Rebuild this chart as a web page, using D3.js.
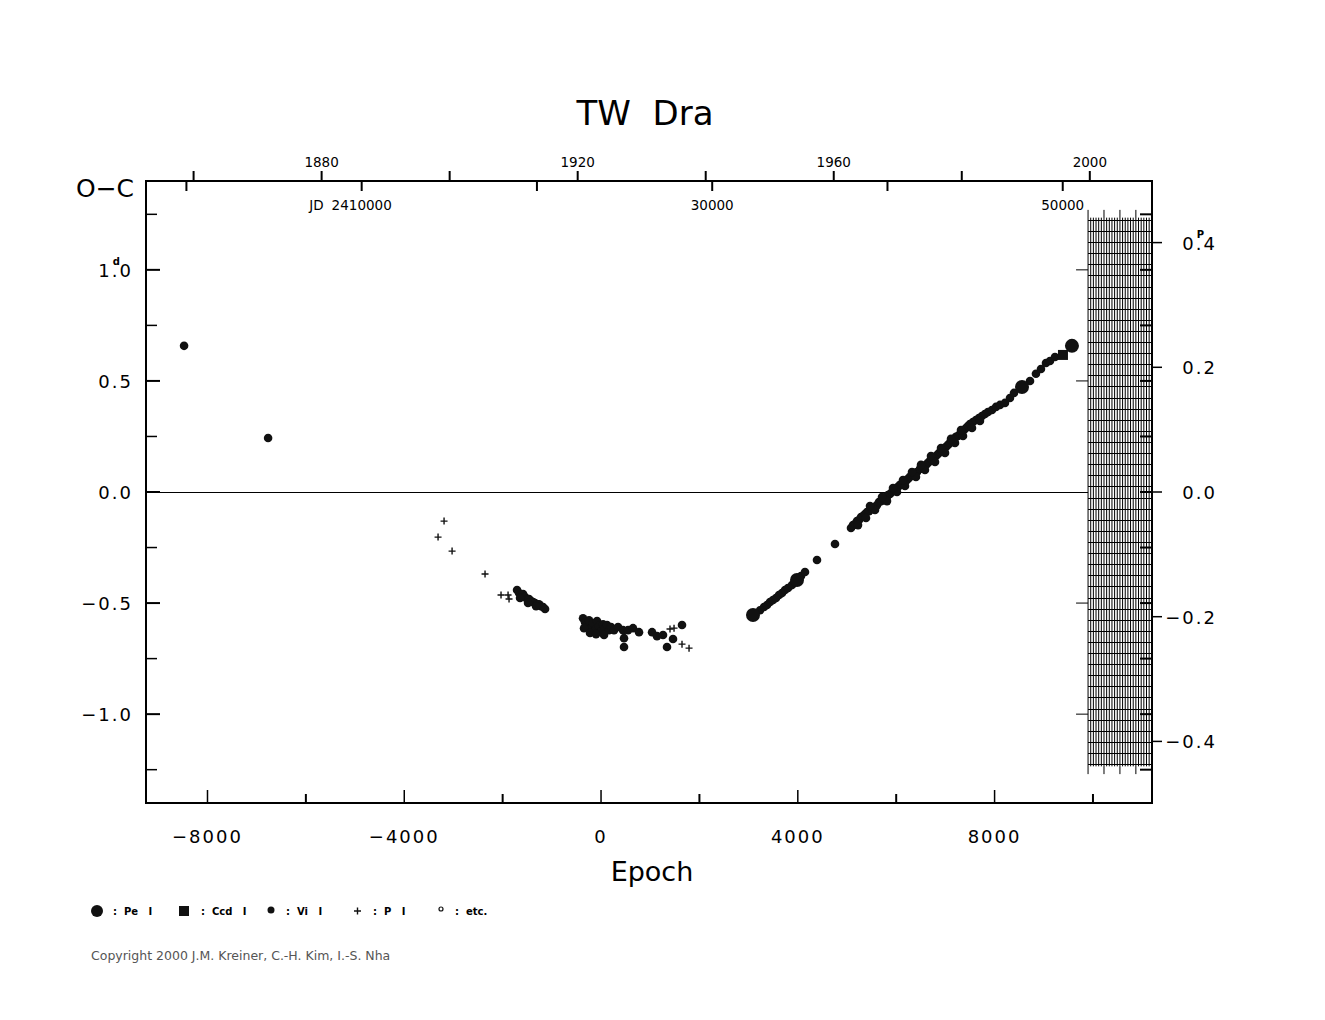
<!DOCTYPE html>
<html>
<head>
<meta charset="utf-8">
<script src="https://cdn.jsdelivr.net/npm/d3@7/dist/d3.min.js"></script>
<style>
  body { margin: 0; background: #fff; }
  text { font-family: "DejaVu Sans", sans-serif; fill: #000; white-space: pre; }
</style>
</head>
<body>
<div id="chart"></div>
<script>
// O-C data for TW Dra, [epoch, O-C in days]
var peData = [[3089, -0.554], [3984, -0.396], [8557, 0.473], [9573, 0.658]];
var ccdData = [[9390, 0.617]];
var pData = [[-3191, -0.131], [-3313, -0.203], [-3028, -0.266], [-2358, -0.369], [-2033, -0.464],
  [-1890, -0.464], [-1870, -0.482], [1402, -0.617], [1484, -0.613], [1646, -0.685], [1789, -0.703]];
var viData = [
  [-8476, 0.658], [-6768, 0.243],
  // 1900s cluster
  [-1707, -0.441], [-1667, -0.455], [-1626, -0.464], [-1585, -0.459], [-1545, -0.473], [-1504, -0.482],
  [-1463, -0.482], [-1423, -0.491], [-1382, -0.495], [-1341, -0.500], [-1301, -0.505], [-1260, -0.505],
  [-1220, -0.514], [-1179, -0.518], [-1138, -0.527], [-1646, -0.477], [-1484, -0.500], [-1321, -0.514],
  // 1920s cluster
  [-366, -0.568], [-325, -0.586], [-285, -0.599], [-244, -0.577], [-203, -0.613], [-163, -0.590],
  [-122, -0.622], [-81, -0.581], [-41, -0.604], [0, -0.626], [41, -0.595], [81, -0.613], [122, -0.599],
  [163, -0.622], [203, -0.608], [-346, -0.613], [-224, -0.635], [-102, -0.640], [61, -0.644],
  [264, -0.622], [346, -0.608], [447, -0.622], [549, -0.622], [467, -0.658], [467, -0.698], [650, -0.613],
  [772, -0.631], [1037, -0.631], [1138, -0.649], [1260, -0.644], [1341, -0.698], [1463, -0.662], [1646, -0.599],
  // modern branch
  [3232, -0.532], [3313, -0.518], [3374, -0.509], [3435, -0.495], [3496, -0.486], [3557, -0.477],
  [3618, -0.464], [3679, -0.455], [3740, -0.441], [3801, -0.432], [3882, -0.419], [3943, -0.405],
  [4065, -0.378], [4146, -0.360], [4390, -0.306], [4756, -0.234],
  [5081, -0.162], [5122, -0.149], [5163, -0.144], [5203, -0.131], [5244, -0.126], [5285, -0.113],
  [5325, -0.108], [5366, -0.099], [5407, -0.090], [5447, -0.086], [5508, -0.077], [5549, -0.068],
  [5610, -0.059], [5650, -0.045], [5691, -0.041], [5752, -0.032], [5793, -0.023], [5833, -0.014],
  [5874, -0.009], [5915, 0.000], [5955, 0.009], [5996, 0.014], [6037, 0.023], [6077, 0.032],
  [6118, 0.036], [6159, 0.045], [6199, 0.050], [6240, 0.059], [6280, 0.068], [6341, 0.077],
  [6382, 0.086], [6423, 0.090], [6484, 0.104], [6524, 0.108], [6565, 0.117], [6606, 0.122],
  [6646, 0.131], [6687, 0.140], [6728, 0.144], [6768, 0.153], [6809, 0.162], [6850, 0.171],
  [6890, 0.180], [6931, 0.185], [6972, 0.194], [7012, 0.203], [7053, 0.212], [7093, 0.221],
  [7134, 0.230], [7175, 0.239], [7215, 0.248], [7256, 0.252], [7297, 0.261], [7337, 0.270],
  [7378, 0.279], [7419, 0.288], [7459, 0.297], [7500, 0.306], [7561, 0.315], [7622, 0.324],
  [7683, 0.333], [7744, 0.342], [7805, 0.351], [7866, 0.360], [7947, 0.369], [8028, 0.383], [8110, 0.392],
  [5224, -0.149], [5386, -0.117], [5569, -0.081], [5813, -0.041], [6016, 0.000], [6179, 0.027],
  [6402, 0.068], [6585, 0.099], [6789, 0.135], [6992, 0.176], [7195, 0.221], [7358, 0.252],
  [7541, 0.288], [7703, 0.320], [5467, -0.063], [5711, -0.023], [5935, 0.018], [6138, 0.054],
  [6321, 0.090], [6504, 0.122], [6707, 0.162], [6911, 0.198], [7114, 0.239], [7317, 0.279],
  [8211, 0.401], [8313, 0.423], [8394, 0.446], [8598, 0.477], [8720, 0.500], [8841, 0.532],
  [8943, 0.554], [9045, 0.581], [9126, 0.590], [9228, 0.608]
];

// axis ticks
var epochTicks = [-8000, -4000, 0, 4000, 8000];
var epochMinor = [-6000, -2000, 2000, 6000, 10000];
var ocTicks = [-1.0, -0.5, 0.0, 0.5, 1.0];
var ocMinor = [-1.25, -0.75, -0.25, 0.25, 0.75, 1.25];
var phaseTicks = [-0.4, -0.2, 0.0, 0.2, 0.4];
var yearTicks = [1860, 1880, 1900, 1920, 1940, 1960, 1980, 2000];
var yearLabels = [1880, 1920, 1960, 2000];
var jdTicks = [2400000, 2410000, 2420000, 2430000, 2440000, 2450000];
var jdLabels = [2410000, 2430000, 2450000];

// ephemeris
var T0 = 2423657, P = 2.8068;

var svgWidth = 1325, svgHeight = 1020;
var plotLeft = 146, plotRight = 1152, plotTop = 181, plotBottom = 803;

var svg = d3.select("#chart").append("svg")
  .attr("width", svgWidth).attr("height", svgHeight);

var x = d3.scaleLinear().domain([-9250, 11200]).range([plotLeft, plotRight]);
var y = d3.scaleLinear().domain([-1.4, 1.4]).range([plotBottom, plotTop]);
var yP = d3.scaleLinear().domain([-1.4 / P, 1.4 / P]).range([plotBottom, plotTop]);

function epochToJD(e) { return T0 + P * e; }
function jdToYear(jd) { return 2000 + (jd - 2451544.5) / 365.25; }
var xJD = d3.scaleLinear().domain(x.domain().map(epochToJD)).range([plotLeft, plotRight]);
var xYear = d3.scaleLinear().domain(x.domain().map(function(e) { return jdToYear(epochToJD(e)); })).range([plotLeft, plotRight]);

// title
svg.append("text").attr("x", 645).attr("y", 125).attr("text-anchor", "middle")
  .style("font-size", "34px").text("TW  Dra");
svg.append("text").attr("x", 105).attr("y", 197).attr("text-anchor", "middle")
  .style("font-size", "25px").text("O\u2212C");
svg.append("text").attr("x", 652).attr("y", 881).attr("text-anchor", "middle")
  .style("font-size", "27px").text("Epoch");

// hatch region on the right
var hatch = svg.append("g").attr("stroke", "#000").attr("stroke-width", 1);
var hatchX = d3.range(24).map(function(i) { return 9900 + i * 54; });
hatch.selectAll("line.v").data(hatchX).enter().append("line")
  .attr("x1", function(d) { return x(d); })
  .attr("x2", function(d) { return x(d); })
  .attr("y1", function(d, i) { return i % 6 === 0 ? y(1.27) : y(1.235); })
  .attr("y2", function(d, i) { return i % 6 === 0 ? y(-1.27) : y(-1.235); });
var hatchY = d3.range(50).map(function(i) { return -1.225 + i * 0.05; });
hatch.selectAll("line.h").data(hatchY).enter().append("line")
  .attr("x1", x(9900)).attr("x2", plotRight)
  .attr("y1", function(d) { return Math.round(y(d)) + 0.5; })
  .attr("y2", function(d) { return Math.round(y(d)) + 0.5; });

// zero line
svg.append("line").attr("x1", plotLeft).attr("x2", x(9900))
  .attr("y1", y(0) + 0.5).attr("y2", y(0) + 0.5).attr("stroke", "#000").attr("stroke-width", 1);

// ticks
var ticks = svg.append("g").attr("stroke", "#000");
function tickLines(data, fx1, fx2, fy1, fy2, w) {
  ticks.append("g").selectAll("line").data(data).enter().append("line")
    .attr("x1", fx1).attr("x2", fx2).attr("y1", fy1).attr("y2", fy2).attr("stroke-width", w);
}
function yv(d) { return y(d); }
function pv(d) { return yP(d); }
// left
tickLines(ocTicks, plotLeft, plotLeft + 14, yv, yv, 2);
tickLines(ocMinor, plotLeft, plotLeft + 11, yv, yv, 1.5);
// right (mirror of left)
tickLines(ocTicks.filter(function(d) { return d !== 0; }), x(9900) - 12, x(9900), yv, yv, 1);
tickLines(ocTicks.concat(ocMinor), plotRight - 12, plotRight, yv, yv, 2);
// right phase ticks
tickLines(phaseTicks, plotRight, plotRight + 10, pv, pv, 1.5);
// bottom
tickLines(epochTicks, function(d) { return x(d); }, function(d) { return x(d); }, plotBottom, plotBottom - 13, 1.5);
tickLines(epochMinor, function(d) { return x(d); }, function(d) { return x(d); }, plotBottom, plotBottom - 9, 2);
// top years (outward) and JD (inward)
tickLines(yearTicks, function(d) { return xYear(d); }, function(d) { return xYear(d); }, plotTop, plotTop - 10, 2);
tickLines(jdTicks, function(d) { return xJD(d); }, function(d) { return xJD(d); }, plotTop, plotTop + 10, 2);

// frame
svg.append("rect").attr("x", plotLeft).attr("y", plotTop)
  .attr("width", plotRight - plotLeft).attr("height", plotBottom - plotTop)
  .attr("fill", "none").attr("stroke", "#000").attr("stroke-width", 2);

// tick labels
var fmt = d3.format(".1f");
function label(g, tx, ty, str, anchor, sup) {
  var t = g.append("text").attr("x", tx).attr("y", ty).attr("text-anchor", anchor)
    .style("font-size", "18px").style("letter-spacing", "2px").text(str);
  if (sup) {
    var i = str.indexOf(".");
    var p = t.node().getStartPositionOfChar(i);
    g.append("text").attr("x", p.x + 1).attr("y", ty - 12)
      .style("font-size", "10px").style("font-weight", "bold").text(sup);
  }
}
var lab = svg.append("g");
epochTicks.forEach(function(d) {
  lab.append("text").attr("x", x(d)).attr("y", 843).attr("text-anchor", "middle")
    .style("font-size", "18px").style("letter-spacing", "2px").text(d3.format("d")(d).replace("-", "\u2212"));
});
ocTicks.forEach(function(d) {
  label(lab, 133, y(d) + 7, fmt(d), "end", d === 1 ? "d" : null);
});
phaseTicks.forEach(function(d) {
  label(lab, 1217, yP(d) + 7, fmt(d), "end", d === 0.4 ? "P" : null);
});
yearLabels.forEach(function(d) {
  lab.append("text").attr("x", xYear(d)).attr("y", 167).attr("text-anchor", "middle")
    .style("font-size", "13.5px").text(d);
});
jdLabels.forEach(function(d, i) {
  var s = i === 0 ? String(d) : String(d).slice(2);
  lab.append("text").attr("x", xJD(d)).attr("y", 210).attr("text-anchor", "middle")
    .style("font-size", "13.5px").text(s);
  if (i === 0) {
    lab.append("text").attr("x", xJD(d) - 38).attr("y", 210).attr("text-anchor", "end")
      .style("font-size", "13.5px").text("JD");
  }
});

// data marks
var marks = svg.append("g");
marks.selectAll("circle.vi").data(viData).enter().append("circle")
  .attr("cx", function(d) { return x(d[0]); }).attr("cy", function(d) { return y(d[1]); })
  .attr("r", 4.3).attr("fill", "#111");
marks.selectAll("path.p").data(pData).enter().append("path")
  .attr("d", function(d) {
    var cx = x(d[0]), cy = y(d[1]);
    return "M" + (cx - 3.5) + "," + cy + "H" + (cx + 3.5) + "M" + cx + "," + (cy - 3.5) + "V" + (cy + 3.5);
  })
  .attr("stroke", "#111").attr("stroke-width", 1.4);
marks.selectAll("circle.pe").data(peData).enter().append("circle")
  .attr("cx", function(d) { return x(d[0]); }).attr("cy", function(d) { return y(d[1]); })
  .attr("r", 7).attr("fill", "#111");
marks.selectAll("rect.ccd").data(ccdData).enter().append("rect")
  .attr("x", function(d) { return x(d[0]) - 5; }).attr("y", function(d) { return y(d[1]) - 5; })
  .attr("width", 10).attr("height", 10).attr("fill", "#111");

// legend
var leg = svg.append("g").style("font-size", "10px").style("font-weight", "bold");
leg.append("circle").attr("cx", 97).attr("cy", 911).attr("r", 6).attr("fill", "#111");
leg.append("text").attr("x", 113).attr("y", 915).text(":  Pe   I");
leg.append("rect").attr("x", 179).attr("y", 906).attr("width", 10).attr("height", 10).attr("fill", "#111");
leg.append("text").attr("x", 201).attr("y", 915).text(":  Ccd   I");
leg.append("circle").attr("cx", 271).attr("cy", 910).attr("r", 3.5).attr("fill", "#111");
leg.append("text").attr("x", 286).attr("y", 915).text(":  Vi   I");
leg.append("path").attr("d", "M354,911H361M357.5,907.5V914.5").attr("stroke", "#111").attr("stroke-width", 1.4);
leg.append("text").attr("x", 373).attr("y", 915).text(":  P   I");
leg.append("circle").attr("cx", 441).attr("cy", 909).attr("r", 2).attr("fill", "none").attr("stroke", "#111").attr("stroke-width", 1.2);
leg.append("text").attr("x", 455).attr("y", 915).text(":  etc.");

svg.append("text").attr("x", 91).attr("y", 960).style("font-size", "12.5px").style("fill", "#555")
  .text("Copyright 2000 J.M. Kreiner, C.-H. Kim, I.-S. Nha");
</script>
</body>
</html>
